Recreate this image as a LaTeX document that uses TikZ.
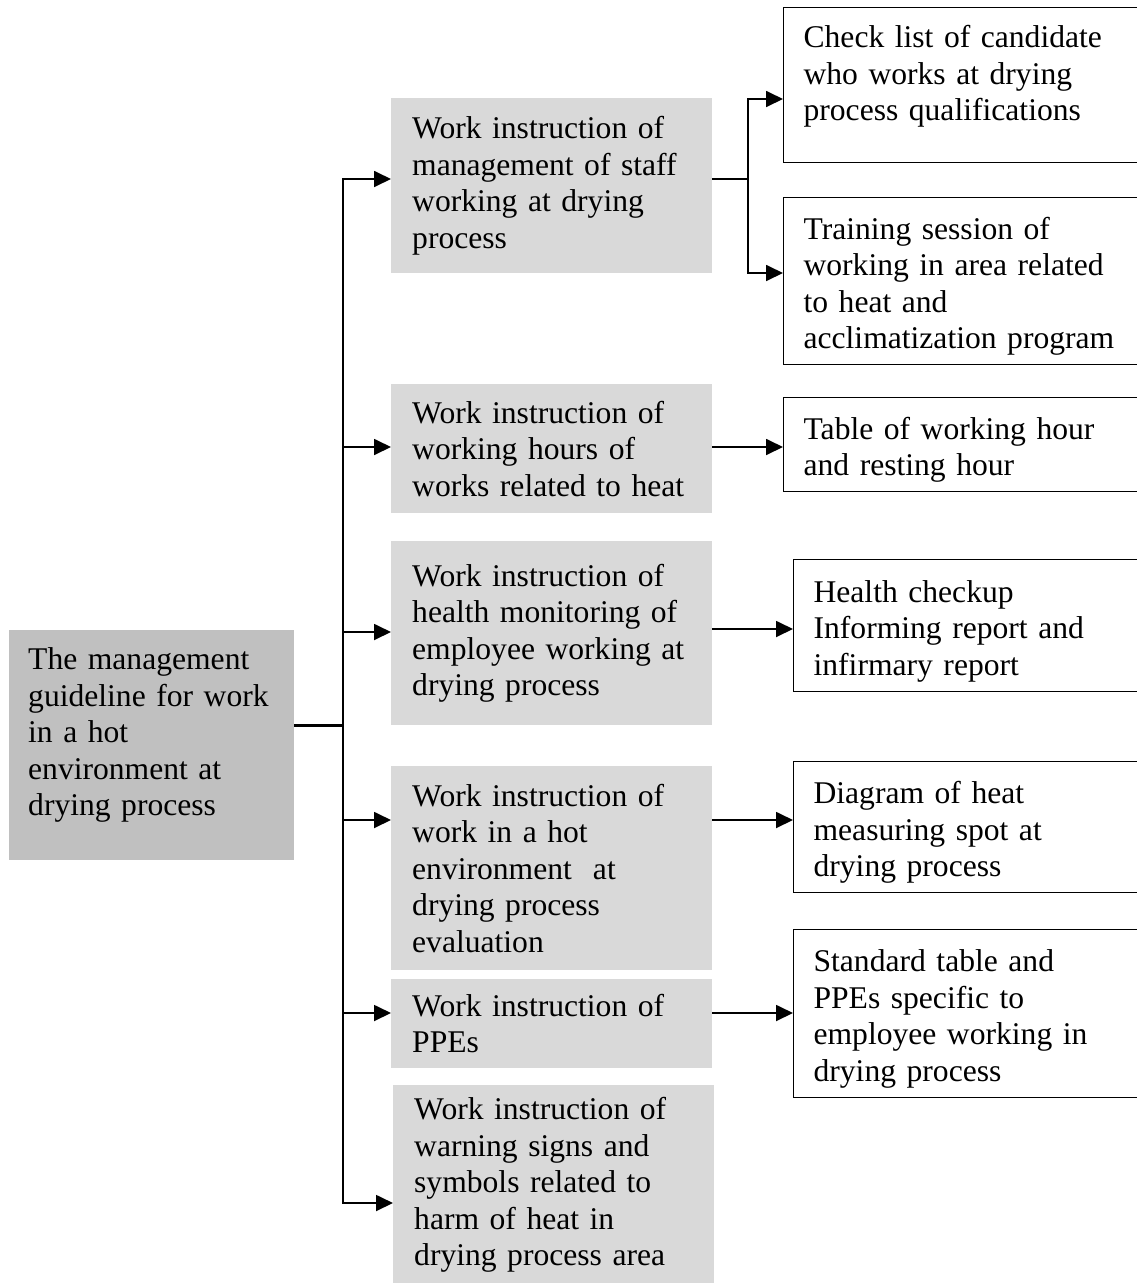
\documentclass[tikz,border=0pt]{standalone}
\usepackage{fontspec}
\setmainfont{Liberation Serif}
\usetikzlibrary{arrows.meta,positioning}
\definecolor{rootgray}{HTML}{C0C0C0}
\definecolor{midgray}{HTML}{D9D9D9}
\tikzset{
  every node/.style={
    font=\fontsize{31.6}{36.5}\selectfont
  },
  rootbox/.style={
    fill=rootgray,
    anchor=north west,
    align=left,
    inner xsep=19pt,
    inner ysep=2pt,
    text width=247pt
  },
  midbox/.style={
    fill=midgray,
    anchor=north west,
    align=left,
    inner xsep=21pt,
    inner ysep=2pt,
    text width=279pt
  },
  docbox/.style={
    draw,
    line width=1.2pt,
    anchor=north west,
    align=left,
    inner xsep=20pt,
    inner ysep=2pt,
    execute at begin node={\rule{0pt}{33pt}}
  },
  link/.style={
    line width=1.8pt
  },
  arr/.style={
    line width=1.8pt,
    -{Triangle[length=17pt,width=16pt]}
  },
}
\begin{document}
\begin{tikzpicture}[x=1pt,y=-1pt]
    \useasboundingbox (0,0) rectangle (1137,1283);
    \clip (0,0) rectangle (1137,1283);
    \node[rootbox,minimum height=230pt] (root) at (9,630) {The management\\guideline for work\\in a hot\\environment at\\drying process\par\kern20pt};
    \node[midbox,minimum height=175pt] (m1) at (391,98) {Work instruction of\\management of staff\\working at drying\\process};
    \node[midbox,minimum height=129pt] (m2) at (391,384) {Work instruction of\\working hours of\\works related to heat};
    \node[midbox,minimum height=184pt] (m3) at (391,541) {Work instruction of\\health monitoring of\\employee working at\\drying process};
    \node[midbox,minimum height=204pt] (m4) at (391,766) {Work instruction of\\work in a hot\\environment \ at\\drying process\\evaluation};
    \node[midbox,minimum height=89pt] (m5) at (391,979) {Work instruction of\\PPEs};
    \node[midbox,minimum height=200pt] (m6) at (393,1085) {Work instruction of\\warning signs and\\symbols related to\\harm of heat in\\drying process area};
    \node[docbox,text width=317pt,minimum height=155pt] (A) at (783,7) {Check list of candidate\\who works at drying\\process qualifications\par\kern28pt};
    \node[docbox,text width=317pt,minimum height=167pt] (B) at (783,197) {Training session of\\working in area related\\to heat and\\acclimatization program};
    \node[docbox,text width=317pt,minimum height=94pt] (C) at (783,397) {Table of working hour\\and resting hour};
    \node[docbox,text width=307pt,minimum height=132pt] (D) at (793,559) {Health checkup\\Informing report and\\infirmary report};
    \node[docbox,text width=307pt,minimum height=131pt] (E) at (793,761) {Diagram of heat\\measuring spot at\\drying process};
    \node[docbox,text width=307pt,minimum height=168pt] (F) at (793,929) {Standard table and\\PPEs specific to\\employee working in\\drying process};
    \coordinate (t0) at (343,725);
    \foreach \y [count=\i] in {179,447,632,820,1013,1203}{
      \coordinate (t\i) at (343,\y);
    }
    \draw[line width=3pt] (t0 -| root.east) -- (t0);
    \draw[link,line cap=rect] (t1) -- (t6);
    \foreach \i in {1,...,6}{
      \draw[arr] (t\i) -- (t\i -| m\i.west);
    }
    \coordinate (s1) at (748,179);
    \coordinate (sa) at (748,99);
    \coordinate (sb) at (748,273);
    \draw[link] (s1 -| m1.east) -- (s1);
    \draw[arr] (s1) -- (sa) -- (sa -| A.west);
    \draw[arr] (s1) -- (sb) -- (sb -| B.west);
    \foreach \y/\f/\g in {447/m2/C,629/m3/D,820/m4/E,1013/m5/F}{
      \coordinate (q) at (750,\y);
      \draw[arr] (q -| \f.east) -- (q -| \g.west);
    }
\end{tikzpicture}
\end{document}
